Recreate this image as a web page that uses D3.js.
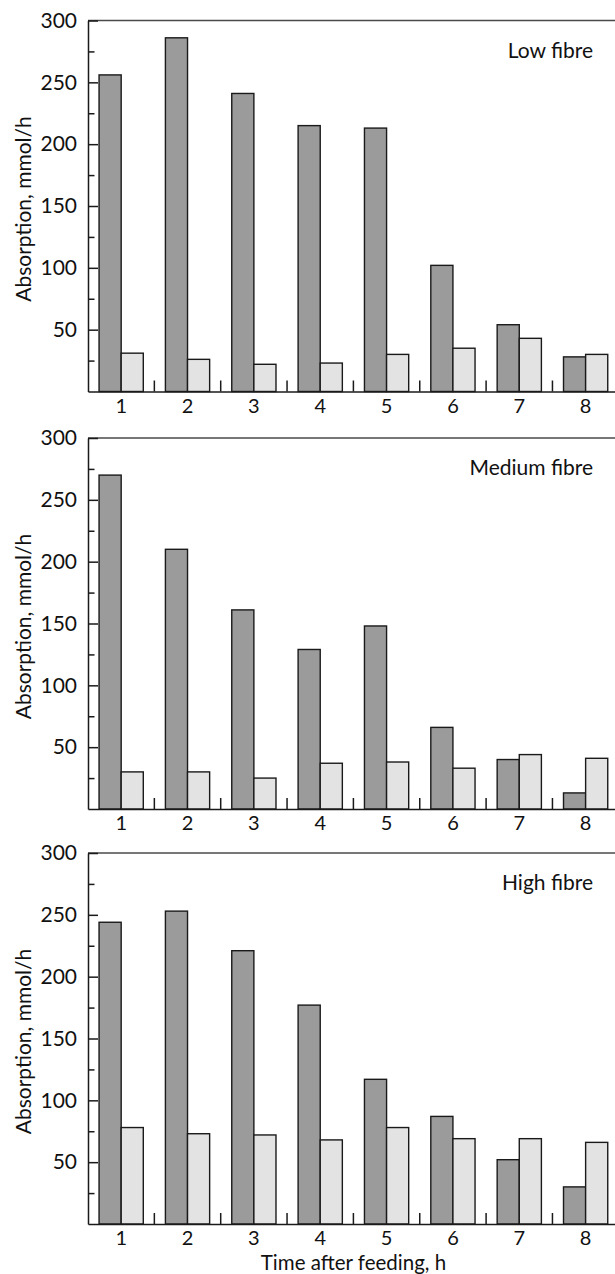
<!DOCTYPE html>
<html>
<head>
<meta charset="utf-8">
<script src="https://cdn.jsdelivr.net/npm/d3@7"></script>
<style>
  html, body { margin: 0; padding: 0; background: #fff; }
  svg { display: block; }
  text { font-family: Lato, "Liberation Sans", sans-serif; fill: #111; }
</style>
</head>
<body>
<div id="chart"></div>
<script>
// Hours after feeding (x categories)
const hours = ["1", "2", "3", "4", "5", "6", "7", "8"];

// Absorption (mmol/h) for the two series in each diet panel
const lowFibreA    = [256, 286, 241, 215, 213, 102, 54, 28];
const lowFibreB    = [31, 26, 22, 23, 30, 35, 43, 30];
const mediumFibreA = [270, 210, 161, 129, 148, 66, 40, 13];
const mediumFibreB = [30, 30, 25, 37, 38, 33, 44, 41];
const highFibreA   = [244, 253, 221, 177, 117, 87, 52, 30];
const highFibreB   = [78, 73, 72, 68, 78, 69, 69, 66];

// Axis tick values and labels
const yMajorTicks = [50, 100, 150, 200, 250, 300];
const yMinorTicks = [25, 75, 125, 175, 225, 275];
const panelTitles = ["Low fibre", "Medium fibre", "High fibre"];
const yTitle = "Absorption, mmol/h";
const xTitle = "Time after feeding, h";

const panels = [
  { title: panelTitles[0], a: lowFibreA, b: lowFibreB },
  { title: panelTitles[1], a: mediumFibreA, b: mediumFibreB },
  { title: panelTitles[2], a: highFibreA, b: highFibreB }
];

const W = 615, H = 1274;
const left = 88, step = 66.35;
const panelTops = [20.5, 438, 853];
const panelH = 371;

const svg = d3.select("#chart").append("svg")
  .attr("width", W).attr("height", H);

const x = d3.scaleBand().domain(hours)
  .range([left, left + step * hours.length]).padding(0);
const xSeries = d3.scaleBand().domain(["a", "b"])
  .range([0, x.bandwidth()]).paddingInner(0).paddingOuter(0.5);
const fills = { a: "#9b9b9b", b: "#e3e3e3" };

panels.forEach((p, i) => {
  const top = panelTops[i];
  const base = top + panelH;
  const y = d3.scaleLinear().domain([0, 300]).range([base, top]);
  const g = svg.append("g");

  // frame line along the top
  g.append("line")
    .attr("x1", left).attr("x2", x.range()[1])
    .attr("y1", y(300)).attr("y2", y(300))
    .attr("stroke", "#4a4a4a").attr("stroke-width", 1.5);

  // bars
  const rows = hours.map((h, j) => ({ h, a: p.a[j], b: p.b[j] }));
  const grp = g.selectAll("g.hour").data(rows).join("g")
    .attr("class", "hour")
    .attr("transform", d => `translate(${x(d.h)},0)`);
  grp.selectAll("rect").data(d => ["a", "b"].map(k => ({ k, v: d[k] })))
    .join("rect")
    .attr("x", d => xSeries(d.k))
    .attr("width", xSeries.bandwidth())
    .attr("y", d => y(d.v))
    .attr("height", d => y(0) - y(d.v))
    .attr("fill", d => fills[d.k])
    .attr("stroke", "#1a1a1a").attr("stroke-width", 1.4);

  // minor y ticks
  const yMinor = d3.axisLeft(y).tickValues(yMinorTicks)
    .tickSize(-6.5).tickFormat("").tickSizeOuter(0);
  g.append("g").attr("transform", `translate(${left},0)`).call(yMinor)
    .call(s => s.select(".domain").remove())
    .call(s => s.selectAll("line").attr("stroke", "#1a1a1a").attr("stroke-width", 1.5));

  // major y ticks with labels
  const yAxis = d3.axisLeft(y).tickValues(yMajorTicks)
    .tickSize(-10).tickSizeOuter(0).tickPadding(11);
  g.append("g").attr("transform", `translate(${left},0)`).call(yAxis)
    .call(s => s.select(".domain").attr("stroke", "#1a1a1a").attr("stroke-width", 1.5))
    .call(s => s.selectAll("line").attr("stroke", "#1a1a1a").attr("stroke-width", 1.5))
    .call(s => s.selectAll("text").attr("font-size", 21)
      .attr("font-family", "Lato, 'Liberation Sans', sans-serif").attr("fill", "#111"));

  // x axis: baseline and hour labels
  const xAxis = d3.axisBottom(x).tickSize(0).tickSizeOuter(0).tickPadding(7);
  g.append("g").attr("transform", `translate(0,${base})`).call(xAxis)
    .call(s => s.select(".domain").attr("stroke", "#1a1a1a").attr("stroke-width", 1.5))
    .call(s => s.selectAll("text").attr("font-size", 20)
      .attr("font-family", "Lato, 'Liberation Sans', sans-serif").attr("fill", "#111"));

  // short upward ticks between hour groups
  g.append("g").selectAll("line").data(hours.slice(0, -1)).join("line")
    .attr("x1", d => x(d) + x.step()).attr("x2", d => x(d) + x.step())
    .attr("y1", base).attr("y2", base - 11)
    .attr("stroke", "#1a1a1a").attr("stroke-width", 1.5);

  // diet label
  g.append("text")
    .attr("x", 593).attr("y", top + 37)
    .attr("text-anchor", "end").attr("font-size", 21)
    .text(p.title);

  // y axis title
  g.append("text")
    .attr("transform", `translate(31,${(top + base) / 2 + 3}) rotate(-90)`)
    .attr("text-anchor", "middle").attr("font-size", 21)
    .text(yTitle);
});

// x axis title
svg.append("text")
  .attr("x", 353.5).attr("y", 1270)
  .attr("text-anchor", "middle").attr("font-size", 20.5)
  .text(xTitle);
</script>
</body>
</html>
